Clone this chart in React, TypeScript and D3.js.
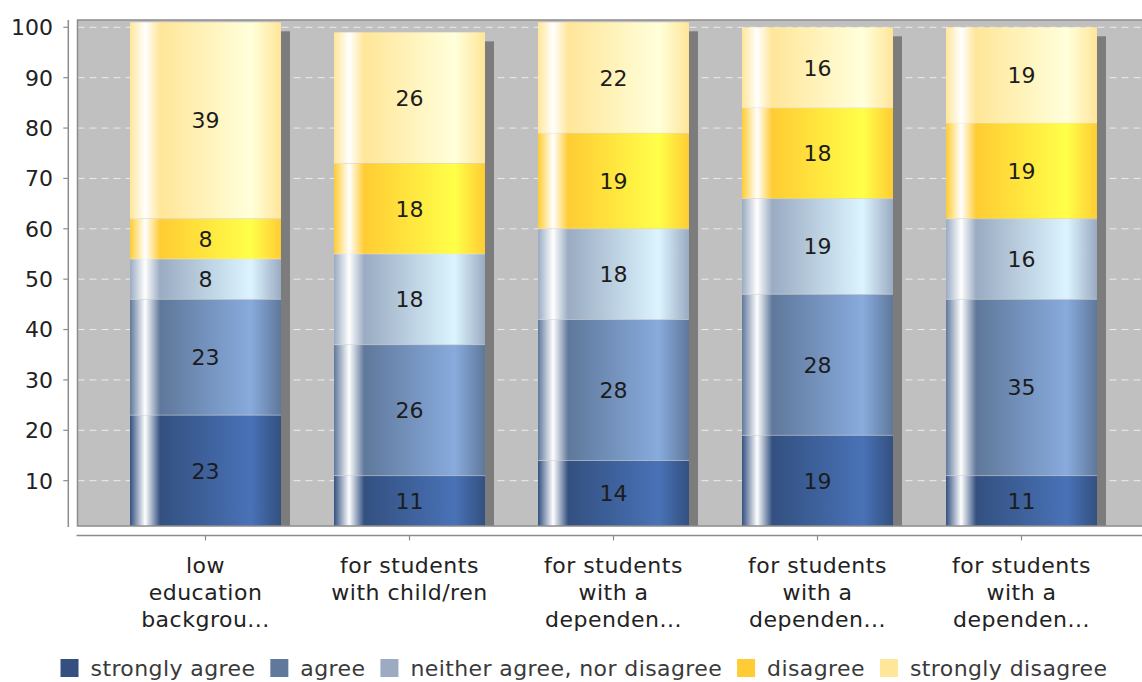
import React, { useEffect, useRef } from "react";
import * as d3 from "d3";

// ---- data ----
const categoryLines: string[][] = [
  ["low", "education", "backgrou..."],
  ["for students", "with child/ren"],
  ["for students", "with a", "dependen..."],
  ["for students", "with a", "dependen..."],
  ["for students", "with a", "dependen..."],
];
const seriesNames = [
  "strongly agree",
  "agree",
  "neither agree, nor disagree",
  "disagree",
  "strongly disagree",
];
const stronglyAgree = [23, 11, 14, 19, 11];
const agree = [23, 26, 28, 28, 35];
const neither = [8, 18, 18, 19, 16];
const disagree = [8, 18, 19, 18, 19];
const stronglyDisagree = [39, 26, 22, 16, 19];
const yTicks = [10, 20, 30, 40, 50, 60, 70, 80, 90, 100];
const seriesColors = ["#335080", "#5f789b", "#9aabc2", "#ffcc33", "#ffe699"];

const seriesValues = [stronglyAgree, agree, neither, disagree, stronglyDisagree];

function brighter(c: d3.RGBColor) {
  const f = 0.7;
  const b = (v: number) => Math.min(255, Math.round((v < 3 ? 3 : v) / f));
  return d3.rgb(b(c.r), b(c.g), b(c.b));
}

export default function App() {
  const ref = useRef<SVGSVGElement>(null);

  useEffect(() => {
    document.body.style.margin = "0";
    const svg = d3.select(ref.current!);
    svg.selectAll("*").remove();

    const font = "'DejaVu Sans', sans-serif";
    const plotL = 77.5,
      plotT = 20,
      plotB = 526,
      plotR = 1150;

    const idx = d3.range(categoryLines.length);
    const x = d3
      .scaleBand<number>()
      .domain(idx)
      .range([plotL + 26, plotL + 26 + 1020])
      .paddingInner(0.26)
      .paddingOuter(0.13);
    const y = d3.scaleLinear().domain([1, 101.45]).range([plotB, plotT]);

    const defs = svg.append("defs");
    defs
      .append("clipPath")
      .attr("id", "plotClip")
      .append("rect")
      .attr("x", plotL)
      .attr("y", plotT)
      .attr("width", plotR - plotL)
      .attr("height", plotB - plotT);

    seriesColors.forEach((c, i) => {
      const c0 = d3.rgb(c);
      const c1 = brighter(c0);
      const g = defs
        .append("linearGradient")
        .attr("id", "grad" + i)
        .attr("x1", 0)
        .attr("x2", 1)
        .attr("y1", 0)
        .attr("y2", 0);
      const stops: [number, string][] = [
        [0, c0.formatHex()],
        [0.1, "#ffffff"],
        [0.2, c0.formatHex()],
        [0.8, c1.formatHex()],
        [1, c0.formatHex()],
      ];
      stops.forEach(([o, col]) =>
        g.append("stop").attr("offset", o).attr("stop-color", col)
      );
    });

    // plot background
    svg
      .append("rect")
      .attr("x", plotL)
      .attr("y", plotT)
      .attr("width", plotR - plotL)
      .attr("height", plotB - plotT)
      .attr("fill", "#c0c0c0");

    // grid
    svg
      .append("g")
      .selectAll("line")
      .data(yTicks)
      .join("line")
      .attr("x1", plotL)
      .attr("x2", plotR)
      .attr("y1", (d) => y(d))
      .attr("y2", (d) => y(d))
      .attr("stroke", "#ececec")
      .attr("stroke-width", 1)
      .attr("stroke-dasharray", "7,5");

    // stacked data
    const keys = seriesNames.map((_, i) => "s" + i);
    const table = idx.map((i) => {
      const row: any = { i };
      seriesValues.forEach((vals, s) => (row["s" + s] = vals[i]));
      return row;
    });
    const stacked = d3.stack<any>().keys(keys)(table);
    const totals = idx.map((i) => d3.sum(seriesValues, (v) => v[i]));

    const plotG = svg.append("g").attr("clip-path", "url(#plotClip)");

    // shadows
    plotG
      .selectAll("rect.shadow")
      .data(idx)
      .join("rect")
      .attr("class", "shadow")
      .attr("x", (i) => x(i)! + 9)
      .attr("y", (i) => y(totals[i]) + 9)
      .attr("width", x.bandwidth())
      .attr("height", (i) => plotB + 20 - (y(totals[i]) + 9))
      .attr("fill", "#7c7c7c");

    // bars
    stacked.forEach((layer, s) => {
      const g = plotG.append("g");
      g.selectAll("rect")
        .data(layer)
        .join("rect")
        .attr("x", (d: any) => x(d.data.i)!)
        .attr("y", (d: any) => y(d[1]))
        .attr("width", x.bandwidth())
        .attr("height", (d: any) => y(d[0]) - y(d[1]))
        .attr("fill", `url(#grad${s})`);
      if (s > 0) {
        g.selectAll("line")
          .data(layer)
          .join("line")
          .attr("x1", (d: any) => x(d.data.i)!)
          .attr("x2", (d: any) => x(d.data.i)! + x.bandwidth())
          .attr("y1", (d: any) => y(d[0]))
          .attr("y2", (d: any) => y(d[0]))
          .attr("stroke", "rgba(235,235,235,0.45)")
          .attr("stroke-width", 1);
      }
    });

    // value labels
    stacked.forEach((layer) => {
      svg
        .append("g")
        .selectAll("text")
        .data(layer)
        .join("text")
        .attr("x", (d: any) => x(d.data.i)! + x.bandwidth() / 2)
        .attr("y", (d: any) => (y(Math.max(d[0], 1)) + y(d[1])) / 2)
        .attr("dy", "0.36em")
        .attr("text-anchor", "middle")
        .attr("font-family", font)
        .attr("font-size", 22)
        .attr("fill", "#1c1c1c")
        .text((d: any) => String(d[1] - d[0]));
    });

    // plot border
    svg
      .append("rect")
      .attr("x", plotL)
      .attr("y", plotT)
      .attr("width", plotR - plotL)
      .attr("height", plotB - plotT)
      .attr("fill", "none")
      .attr("stroke", "#8c8c8c")
      .attr("stroke-width", 1.5);

    // y axis
    const yAxisX = 68.3;
    svg
      .append("line")
      .attr("x1", yAxisX)
      .attr("x2", yAxisX)
      .attr("y1", plotT)
      .attr("y2", plotB + 1)
      .attr("stroke", "#8c8c8c")
      .attr("stroke-width", 1.5);
    const yt = svg.append("g");
    yt.selectAll("line")
      .data(yTicks)
      .join("line")
      .attr("x1", yAxisX - 5)
      .attr("x2", yAxisX)
      .attr("y1", (d) => y(d))
      .attr("y2", (d) => y(d))
      .attr("stroke", "#8c8c8c")
      .attr("stroke-width", 1.2);
    yt.selectAll("text")
      .data(yTicks)
      .join("text")
      .attr("x", 53)
      .attr("y", (d) => y(d))
      .attr("dy", "0.36em")
      .attr("text-anchor", "end")
      .attr("font-family", font)
      .attr("font-size", 22)
      .attr("fill", "#222")
      .text((d) => String(d));

    // x axis
    const xAxisY = 535.5;
    svg
      .append("line")
      .attr("x1", plotL - 1)
      .attr("x2", plotR)
      .attr("y1", xAxisY)
      .attr("y2", xAxisY)
      .attr("stroke", "#8c8c8c")
      .attr("stroke-width", 1.5);
    const xt = svg.append("g");
    xt.selectAll("line")
      .data(idx)
      .join("line")
      .attr("x1", (i) => x(i)! + x.bandwidth() / 2)
      .attr("x2", (i) => x(i)! + x.bandwidth() / 2)
      .attr("y1", xAxisY)
      .attr("y2", xAxisY + 5)
      .attr("stroke", "#8c8c8c")
      .attr("stroke-width", 1.2);
    idx.forEach((i) => {
      const t = xt
        .append("text")
        .attr("text-anchor", "middle")
        .attr("font-family", font)
        .attr("font-size", 22)
        .attr("letter-spacing", 0.5)
        .attr("fill", "#222");
      categoryLines[i].forEach((ln, k) => {
        t.append("tspan")
          .attr("x", x(i)! + x.bandwidth() / 2)
          .attr("y", 573 + k * 27)
          .text(ln);
      });
    });

    // legend
    const lg = svg.append("g");
    const sq = 18,
      gapAfterSq = 12,
      gapAfterText = 15;
    const legendBaseline = 676;
    let cx = 0;
    const items: { x: number; s: number }[] = [];
    const texts: any[] = [];
    seriesNames.forEach((name, s) => {
      const t = lg
        .append("text")
        .attr("font-family", font)
        .attr("font-size", 22)
        .attr("letter-spacing", 0.4)
        .attr("fill", "#3a3a3a")
        .attr("y", legendBaseline)
        .text(name);
      const w = (t.node() as SVGTextElement).getComputedTextLength();
      items.push({ x: cx, s });
      texts.push(t);
      cx += sq + gapAfterSq + w + (s < seriesNames.length - 1 ? gapAfterText : 0);
    });
    const start = 584 - cx / 2;
    items.forEach((it, k) => {
      lg.append("rect")
        .attr("x", start + it.x)
        .attr("y", legendBaseline - 17)
        .attr("width", sq)
        .attr("height", sq)
        .attr("fill", seriesColors[it.s]);
      texts[k].attr("x", start + it.x + sq + gapAfterSq);
    });
  }, []);

  return (
    <svg
      ref={ref}
      width={1142}
      height={682}
      style={{ display: "block", background: "#ffffff" }}
    />
  );
}
